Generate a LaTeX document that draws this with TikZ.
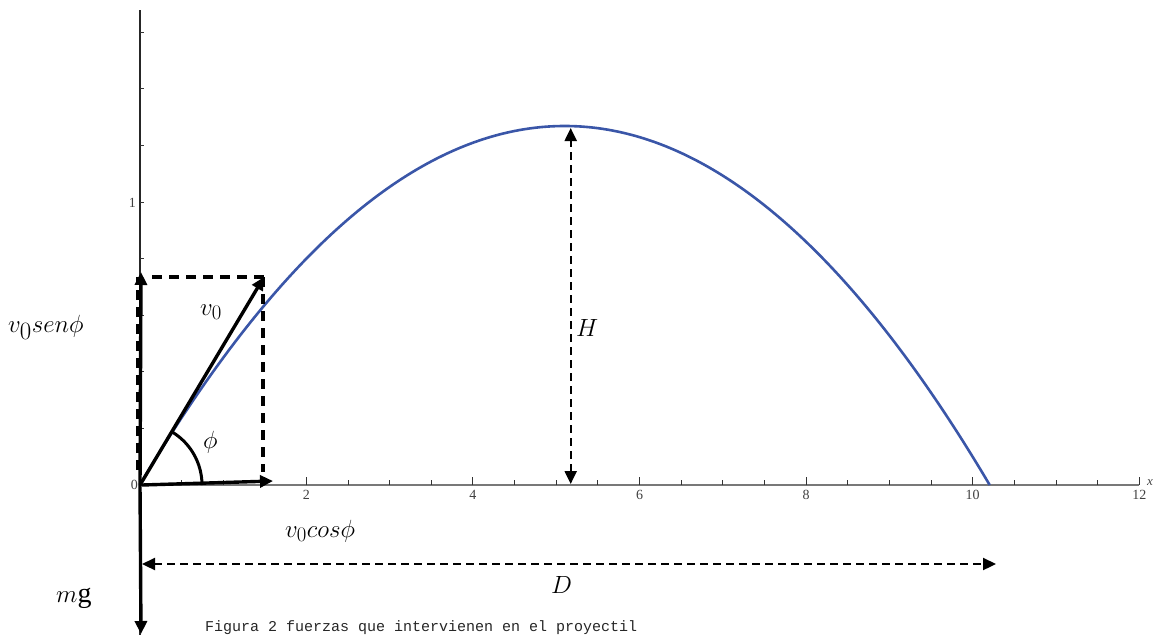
\documentclass[tikz,border=0pt]{standalone}
\usepackage{fontspec}
\setmainfont{Liberation Serif}
\newfontfamily\capfont{Liberation Mono}
\usetikzlibrary{arrows.meta}
\definecolor{curveblue}{RGB}{58,86,168}
\definecolor{axisgray}{RGB}{120,120,120}
\begin{document}
\begin{tikzpicture}[x=1pt,y=-1pt,
  vec/.style={line width=3.4pt,-{Triangle[length=13pt,width=12pt]}},
  dashline/.style={line width=3.4pt,dash pattern=on 10pt off 7pt},
  dimarrow/.style={line width=2.2pt,dash pattern=on 8pt off 5pt,{Triangle[length=13pt,width=12pt]}-{Triangle[length=13pt,width=12pt]}},
  biglbl/.style={font=\fontsize{28}{30}\selectfont,inner sep=0pt},
  ticklbl/.style={font=\fontsize{14}{14}\selectfont,text=black!75,inner sep=0pt},
  captext/.style={font=\capfont\fontsize{15}{15}\selectfont,text=black!85,inner sep=0pt}]
\useasboundingbox (0,0) rectangle (1158,635);
% axes
\coordinate (O) at (140,485);
\coordinate (Xend) at (1139,485);
\coordinate (Ytop) at (140,10);
\coordinate (Ybot) at (140,635);
\draw[axisgray,line width=1.4pt] (O) -- (Xend);
\draw[black!85,line width=1.4pt] (Ytop) -- (Ybot);
\foreach \i in {1,...,24} \draw[black!80,line width=0.9pt] ({139.7+41.65*\i},485) -- ++(0,-5);
\foreach \i in {4,8,...,24} \draw[black!80,line width=0.9pt] ({139.7+41.65*\i},485) -- ++(0,-8);
\foreach \n in {2,4,...,12} \node[ticklbl,anchor=north] (t\n) at ({139.7+83.3*\n},490) {\n};
\node[ticklbl,anchor=east] (t0) at (138,485) {0};
\foreach \k in {1,...,8} \draw[black!80,line width=0.9pt] (140,{485-56.6*\k}) -- ++(4,0);
\node[ticklbl,anchor=east] (t1) at (136,202.4) {1};
\node[ticklbl,anchor=west,font=\fontsize{13}{13}\selectfont\itshape] (xl) at (1147,483) {x};
% trajectory
\draw[curveblue,line width=2.6pt] plot[domain=139.7:989.7,samples=90,smooth] (\x,{485-359*(1-((\x-564.7)/425)^2)});
% dashed rectangle
\draw[dashline] (138,470) -- (138,277);
\draw[dashline] (152,277) -- (265,277);
\draw[dashline] (263,277) -- (263,472);
% vectors
\coordinate (Vtop) at (141,272);
\coordinate (Vbot) at (141,634);
\coordinate (V0) at (264,277);
\coordinate (Vx) at (273,481);
\draw[vec] (O) -- (Vtop);
\draw[vec] (O) -- (Vbot);
\draw[vec] (O) -- (V0);
\draw[vec] (142,485) -- (Vx);
% angle mark
\draw[line width=3pt] plot[domain=0:59.4,samples=30,smooth] ({140+62*cos(\x)},{485-62*sin(\x)});
% H and D
\coordinate (Htop) at (570.7,128);
\coordinate (Hbot) at (570.7,484);
\draw[dimarrow] (Hbot) -- (Htop);
\coordinate (Dl) at (142,564);
\coordinate (Dr) at (996,564);
\draw[dimarrow] (Dl) -- (Dr);
% labels
\node[biglbl,anchor=base west,font=\fontsize{33}{35}\selectfont] (lsen) at (8,332) {$v_0sen\phi$};
\node[biglbl,anchor=base west,font=\fontsize{30}{32}\selectfont] (lv0) at (200,315) {$v_0$};
\node[biglbl,anchor=base west,font=\fontsize{27}{29}\selectfont] (lphi) at (203,448) {$\phi$};
\node[biglbl,anchor=base west,font=\fontsize{29}{31}\selectfont] (lcos) at (285,537) {$v_0cos\phi$};
\node[biglbl,anchor=base west,font=\fontsize{27}{29}\selectfont] (lD) at (551,593) {$D$};
\node[biglbl,anchor=base west,font=\fontsize{28}{30}\selectfont] (lmg) at (56,602) {$m\mathrm{g}$};
\node[biglbl,anchor=base west,font=\fontsize{24}{26}\selectfont] (lH) at (576,336) {$H$};
\node[captext,anchor=base west] (cap) at (205,631) {Figura 2 fuerzas que intervienen en el proyectil};
\end{tikzpicture}
\end{document}
